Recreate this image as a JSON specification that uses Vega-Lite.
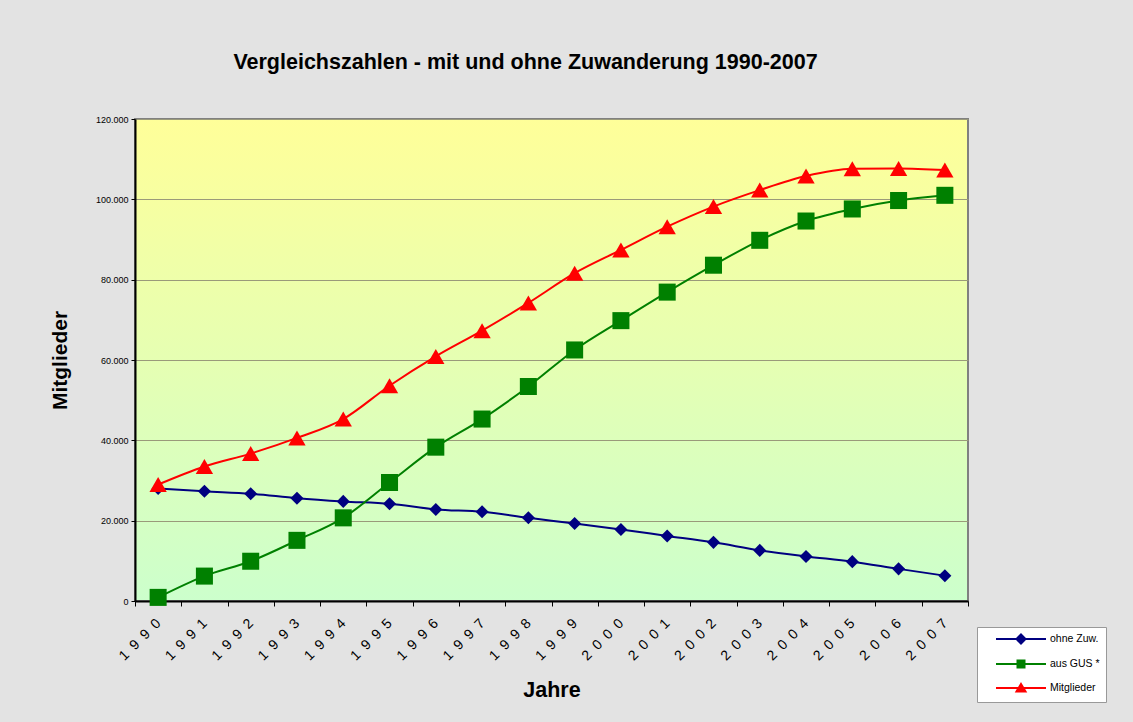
{
  "$schema": "https://vega.github.io/schema/vega-lite/v6.json",
  "width": 833,
  "height": 482,
  "autosize": {"type": "none"},
  "padding": {"left": 135, "top": 119, "right": 165, "bottom": 121},
  "background": "#e3e3e3",
  "title": {
    "text": "Vergleichszahlen - mit und ohne Zuwanderung 1990-2007",
    "font": "Liberation Sans",
    "fontSize": 21.5,
    "fontWeight": "bold",
    "color": "#000000",
    "anchor": "middle",
    "dx": -26,
    "offset": 42
  },
  "config": {
    "font": "Liberation Sans",
    "view": {
      "stroke": "#808080",
      "strokeWidth": 2,
      "fill": {
        "gradient": "linear",
        "x1": 0, "y1": 0, "x2": 0, "y2": 1,
        "stops": [
          {"offset": 0, "color": "#ffff99"},
          {"offset": 1, "color": "#ccffcc"}
        ]
      }
    }
  },
  "data": {
    "values": [
      {"year": "1990", "series": "ohne Zuw.", "value": 28000},
      {"year": "1991", "series": "ohne Zuw.", "value": 27300},
      {"year": "1992", "series": "ohne Zuw.", "value": 26700},
      {"year": "1993", "series": "ohne Zuw.", "value": 25600},
      {"year": "1994", "series": "ohne Zuw.", "value": 24800},
      {"year": "1995", "series": "ohne Zuw.", "value": 24200},
      {"year": "1996", "series": "ohne Zuw.", "value": 22800},
      {"year": "1997", "series": "ohne Zuw.", "value": 22200},
      {"year": "1998", "series": "ohne Zuw.", "value": 20700},
      {"year": "1999", "series": "ohne Zuw.", "value": 19300},
      {"year": "2000", "series": "ohne Zuw.", "value": 17800},
      {"year": "2001", "series": "ohne Zuw.", "value": 16200},
      {"year": "2002", "series": "ohne Zuw.", "value": 14600},
      {"year": "2003", "series": "ohne Zuw.", "value": 12600},
      {"year": "2004", "series": "ohne Zuw.", "value": 11100},
      {"year": "2005", "series": "ohne Zuw.", "value": 9800},
      {"year": "2006", "series": "ohne Zuw.", "value": 8000},
      {"year": "2007", "series": "ohne Zuw.", "value": 6300},
      {"year": "1990", "series": "aus GUS *", "value": 900},
      {"year": "1991", "series": "aus GUS *", "value": 6200},
      {"year": "1992", "series": "aus GUS *", "value": 9900},
      {"year": "1993", "series": "aus GUS *", "value": 15100},
      {"year": "1994", "series": "aus GUS *", "value": 20700},
      {"year": "1995", "series": "aus GUS *", "value": 29500},
      {"year": "1996", "series": "aus GUS *", "value": 38300},
      {"year": "1997", "series": "aus GUS *", "value": 45300},
      {"year": "1998", "series": "aus GUS *", "value": 53400},
      {"year": "1999", "series": "aus GUS *", "value": 62500},
      {"year": "2000", "series": "aus GUS *", "value": 69800},
      {"year": "2001", "series": "aus GUS *", "value": 76900},
      {"year": "2002", "series": "aus GUS *", "value": 83600},
      {"year": "2003", "series": "aus GUS *", "value": 89800},
      {"year": "2004", "series": "aus GUS *", "value": 94600},
      {"year": "2005", "series": "aus GUS *", "value": 97600},
      {"year": "2006", "series": "aus GUS *", "value": 99700},
      {"year": "2007", "series": "aus GUS *", "value": 101000},
      {"year": "1990", "series": "Mitglieder", "value": 29000},
      {"year": "1991", "series": "Mitglieder", "value": 33500},
      {"year": "1992", "series": "Mitglieder", "value": 36700},
      {"year": "1993", "series": "Mitglieder", "value": 40600},
      {"year": "1994", "series": "Mitglieder", "value": 45300},
      {"year": "1995", "series": "Mitglieder", "value": 53600},
      {"year": "1996", "series": "Mitglieder", "value": 60900},
      {"year": "1997", "series": "Mitglieder", "value": 67300},
      {"year": "1998", "series": "Mitglieder", "value": 74200},
      {"year": "1999", "series": "Mitglieder", "value": 81600},
      {"year": "2000", "series": "Mitglieder", "value": 87400},
      {"year": "2001", "series": "Mitglieder", "value": 93200},
      {"year": "2002", "series": "Mitglieder", "value": 98200},
      {"year": "2003", "series": "Mitglieder", "value": 102300},
      {"year": "2004", "series": "Mitglieder", "value": 105800},
      {"year": "2005", "series": "Mitglieder", "value": 107600},
      {"year": "2006", "series": "Mitglieder", "value": 107700},
      {"year": "2007", "series": "Mitglieder", "value": 107300}
    ]
  },
  "encoding": {
    "x": {
      "field": "year",
      "type": "ordinal",
      "scale": {"type": "band", "paddingInner": 0, "paddingOuter": 0},
      "axis": {
        "title": "Jahre",
        "titleFont": "Liberation Sans",
        "titleFontSize": 21.5,
        "titleFontWeight": "bold",
        "titleColor": "#000000",
        "titleY": 89,
        "titleBaseline": "middle",
        "tickBand": "extent",
        "domainColor": "#000000",
        "domainWidth": 2,
        "tickColor": "#000000",
        "tickSize": 5,
        "labelAngle": -45,
        "labelAlign": "right",
        "labelBaseline": "middle",
        "labelFontSize": 14,
        "labelColor": "#000000",
        "labelPadding": 15,
        "labelExpr": "join(split(datum.label, ''), '\u2002')",
        "grid": false
      }
    },
    "y": {
      "field": "value",
      "type": "quantitative",
      "scale": {"domain": [0, 120000], "nice": false},
      "axis": {
        "title": "Mitglieder",
        "titleFont": "Liberation Sans",
        "titleFontSize": 21,
        "titleFontWeight": "bold",
        "titleColor": "#000000",
        "titleX": -75,
        "titleBaseline": "middle",
        "values": [0, 20000, 40000, 60000, 80000, 100000, 120000],
        "labelExpr": "replace(format(datum.value, ','), ',', '.')",
        "labelFontSize": 9,
        "labelColor": "#000000",
        "labelPadding": 3,
        "domainColor": "#000000",
        "domainWidth": 2,
        "tickColor": "#000000",
        "tickSize": 4,
        "grid": true,
        "gridColor": "#9a9a7a",
        "gridWidth": 1,
        "gridOpacity": 1
      }
    },
    "color": {
      "field": "series",
      "type": "nominal",
      "scale": {
        "domain": ["ohne Zuw.", "aus GUS *", "Mitglieder"],
        "range": ["#000080", "#008000", "#ff0000"]
      },
      "legend": {
        "title": null,
        "orient": "none",
        "legendX": 842,
        "legendY": 508,
        "fillColor": "#ffffff",
        "strokeColor": "#999999",
        "padding": 6,
        "symbolSize": 100,
        "labelOffset": 55,
        "labelFontSize": 10.5,
        "labelColor": "#000000",
        "rowPadding": 8,
        "encode": {
          "symbols": {
            "update": {
              "shape": {"signal": "datum.value === 'ohne Zuw.' ? 'M1.4,0H11.4M6.4,-0.9L7.3,0L6.4,0.9L5.5,0Z' : datum.value === 'aus GUS *' ? 'M1.4,0H11.4M5.7,-0.7H7.1V0.7H5.7Z' : 'M1.4,0H11.4M6.4,-0.8L7.3,0.7H5.5Z'"},
              "fill": {"signal": "datum.value === 'ohne Zuw.' ? '#000080' : datum.value === 'aus GUS *' ? '#008000' : '#ff0000'"},
              "stroke": {"signal": "datum.value === 'ohne Zuw.' ? '#000080' : datum.value === 'aus GUS *' ? '#008000' : '#ff0000'"},
              "strokeWidth": {"value": 2},
              "size": {"value": 100},
              "opacity": {"value": 1},
              "fillOpacity": {"value": 1}
            }
          }
        }
      }
    }
  },
  "layer": [
    {
      "mark": {"type": "line", "interpolate": "monotone", "strokeWidth": 2}
    },
    {
      "transform": [{"filter": "datum.series === 'ohne Zuw.'"}],
      "mark": {"type": "point", "filled": true, "opacity": 1, "shape": "diamond", "size": 170}
    },
    {
      "transform": [{"filter": "datum.series === 'aus GUS *'"}],
      "mark": {"type": "point", "filled": true, "opacity": 1, "shape": "square", "size": 290}
    },
    {
      "transform": [{"filter": "datum.series === 'Mitglieder'"}],
      "mark": {"type": "point", "filled": true, "opacity": 1, "shape": "triangle-up", "size": 300}
    }
  ]
}
